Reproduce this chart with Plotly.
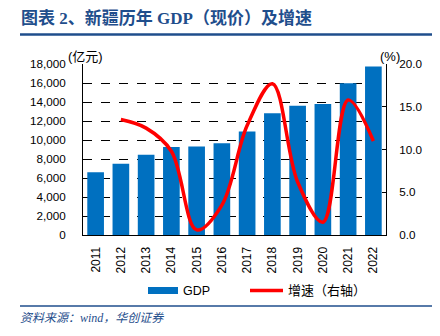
import plotly.graph_objects as go

# Xinjiang nominal GDP (100 million yuan) and growth rate (%)
years = ["2011", "2012", "2013", "2014", "2015", "2016",
         "2017", "2018", "2019", "2020", "2021", "2022"]
gdp = [6610, 7505, 8443, 9273, 9325, 9650, 10882, 12809, 13597, 13798, 15983, 17741]
growth_years = years[1:]
growth = [13.5, 12.5, 9.8, 0.6, 3.5, 12.8, 17.7, 6.2, 1.5, 15.8, 11.0]

W, H = 440, 336
L, R, T, B = 83, 54, 64, 101
PW, PH = W - L - R, H - T - B


def px(x):
    return (x - L) / PW


def py(y):
    return (H - B - y) / PH


BLUE = "#0070C0"
RED = "#FF0000"
DARK = "#1F4E8C"
CJK = "Liberation Serif, Noto Sans CJK SC"
SANS = "Arial, Liberation Sans, Noto Sans CJK SC"

fig = go.Figure()
fig.add_trace(go.Bar(x=years, y=gdp, marker_color=BLUE, marker_line_width=0,
                     name="GDP", showlegend=False))
fig.add_trace(go.Scatter(x=growth_years, y=growth, yaxis="y2", mode="lines",
                         line=dict(color=RED, width=3.5, shape="spline", smoothing=1.0),
                         name="增速（右轴）", showlegend=False))

shapes = [
    dict(type="line", xref="paper", yref="paper", x0=px(20), x1=px(432),
         y0=py(34.5), y1=py(34.5), line=dict(color=DARK, width=2.5)),
    dict(type="line", xref="paper", yref="paper", x0=px(20), x1=px(432),
         y0=py(306), y1=py(306), line=dict(color=DARK, width=1.5)),
    # legend swatches
    dict(type="rect", xref="paper", yref="paper", x0=px(148), x1=px(178),
         y0=py(294), y1=py(287), fillcolor=BLUE, line=dict(width=0)),
    dict(type="line", xref="paper", yref="paper", x0=px(250), x1=px(283),
         y0=py(290.5), y1=py(290.5), line=dict(color=RED, width=3.5)),
]

annotations = [
    dict(text="<b>图表 2、新疆历年 GDP（现价）及增速</b>", xref="paper", yref="paper",
         x=px(19), y=py(18), xanchor="left", yanchor="middle", showarrow=False,
         font=dict(family=CJK, size=17, color=DARK)),
    dict(text="(亿元)", xref="paper", yref="paper", x=px(66), y=py(57),
         xanchor="left", yanchor="middle", showarrow=False,
         font=dict(family=SANS, size=13, color="#000")),
    dict(text="(%)", xref="paper", yref="paper", x=px(378), y=py(57),
         xanchor="left", yanchor="middle", showarrow=False,
         font=dict(family=SANS, size=13, color="#000")),
    dict(text="GDP", xref="paper", yref="paper", x=px(181), y=py(290.5),
         xanchor="left", yanchor="middle", showarrow=False,
         font=dict(family=SANS, size=12.5, color="#000")),
    dict(text="增速（右轴）", xref="paper", yref="paper", x=px(286), y=py(290.5),
         xanchor="left", yanchor="middle", showarrow=False,
         font=dict(family=SANS, size=13, color="#000")),
    dict(text="<i>资料来源：wind，华创证券</i>", xref="paper", yref="paper",
         x=px(18), y=py(318), xanchor="left", yanchor="middle", showarrow=False,
         font=dict(family=CJK, size=12, color=DARK)),
]

fig.update_layout(
    width=W, height=H, autosize=False,
    margin=dict(l=L, r=R, t=T, b=B, pad=0),
    paper_bgcolor="white", plot_bgcolor="white",
    bargap=0.34,
    shapes=shapes, annotations=annotations,
    xaxis=dict(type="category", tickangle=-90, showline=True, linecolor="#000",
               linewidth=1, ticks="", showgrid=False, ticklabelstandoff=6,
               tickfont=dict(family=SANS, size=12, color="#000")),
    yaxis=dict(range=[0, 18000], dtick=2000, tickformat=",", showline=True,
               linecolor="#000", linewidth=1, showgrid=True, gridcolor="#000",
               griddash="dash", gridwidth=1, zeroline=False, ticks="",
               ticklabelstandoff=14,
               tickfont=dict(family=SANS, size=11.7, color="#000")),
    yaxis2=dict(range=[0, 20], dtick=5, tickformat=".1f", overlaying="y",
                side="right", showline=True, linecolor="#000", linewidth=1,
                showgrid=False, zeroline=False, ticks="inside", ticklen=4,
                tickcolor="#000", ticklabelstandoff=10,
                tickfont=dict(family=SANS, size=11.7, color="#000")),
)

fig.write_html("out.html")
